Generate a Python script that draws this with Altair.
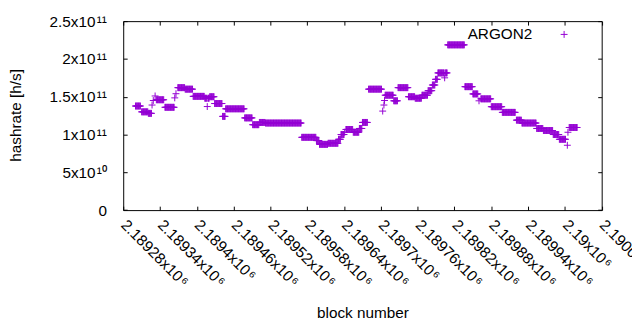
import altair as alt
import pandas as pd

# ---- data: runs of consecutive blocks that share one hashrate reading ----
run_start = [2189300, 2189310, 2189321, 2189327, 2189329, 2189332, 2189334, 2189348, 2189364, 2189366,
             2189369, 2189381, 2189394, 2189413, 2189417, 2189418, 2189421, 2189429, 2189442, 2189447,
             2189478, 2189491, 2189502, 2189512, 2189571, 2189595, 2189600, 2189614, 2189631, 2189635,
             2189641, 2189643, 2189655, 2189665, 2189670, 2189680, 2189703, 2189705, 2189706, 2189707,
             2189721, 2189728, 2189745, 2189756, 2189767, 2189777, 2189784, 2189789, 2189793, 2189804,
             2189805, 2189809, 2189837, 2189850, 2189860, 2189863, 2189880, 2189898, 2189921, 2189930,
             2189954, 2189965, 2189981, 2189991, 2190004, 2190005, 2190007]
run_end = [2189308, 2189320, 2189326, 2189327, 2189329, 2189332, 2189346, 2189363, 2189364, 2189366,
           2189380, 2189393, 2189412, 2189416, 2189417, 2189420, 2189428, 2189441, 2189446, 2189477,
           2189490, 2189501, 2189511, 2189570, 2189594, 2189599, 2189613, 2189630, 2189634, 2189640,
           2189641, 2189654, 2189664, 2189669, 2189678, 2189701, 2189703, 2189705, 2189706, 2189720,
           2189727, 2189744, 2189755, 2189766, 2189776, 2189783, 2189788, 2189792, 2189803, 2189804,
           2189808, 2189836, 2189849, 2189858, 2189860, 2189879, 2189897, 2189919, 2189929, 2189953,
           2189964, 2189980, 2189990, 2190001, 2190004, 2190005, 2190020]
run_value = [1.377e11, 1.30e11, 1.28e11, 1.39e11, 1.45e11, 1.51e11, 1.46e11, 1.36e11, 1.485e11, 1.54e11,
             1.62e11, 1.60e11, 1.505e11, 1.48e11, 1.37e11, 1.48e11, 1.50e11, 1.41e11, 1.24e11, 1.34e11,
             1.22e11, 1.13e11, 1.16e11, 1.152e11, 0.963e11, 0.92e11, 0.87e11, 0.884e11, 0.937e11, 1.00e11,
             1.03e11, 1.067e11, 1.03e11, 1.08e11, 1.16e11, 1.60e11, 1.31e11, 1.39e11, 1.45e11, 1.52e11,
             1.446e11, 1.62e11, 1.50e11, 1.48e11, 1.52e11, 1.58e11, 1.655e11, 1.73e11, 1.815e11, 1.75e11,
             1.815e11, 2.186e11, 1.633e11, 1.537e11, 1.446e11, 1.472e11, 1.368e11, 1.293e11, 1.19e11, 1.152e11,
             1.08e11, 1.053e11, 1.00e11, 0.937e11, 0.858e11, 1.03e11, 1.093e11]
series_name = "ARGON2"

x_tick_values = [2189280, 2189340, 2189400, 2189460, 2189520, 2189580, 2189640,
                 2189700, 2189760, 2189820, 2189880, 2189940, 2190000, 2190060]
x_tick_labels = ["2.18928x10\u200a⁶", "2.18934x10\u200a⁶", "2.1894x10\u200a⁶", "2.18946x10\u200a⁶",
                 "2.18952x10\u200a⁶", "2.18958x10\u200a⁶", "2.18964x10\u200a⁶", "2.1897x10\u200a⁶",
                 "2.18976x10\u200a⁶", "2.18982x10\u200a⁶", "2.18988x10\u200a⁶", "2.18994x10\u200a⁶",
                 "2.19x10\u200a⁶", "2.19006x10\u200a⁶"]
y_tick_values = [0, 50000000000, 100000000000, 150000000000, 200000000000, 250000000000]
y_tick_labels = ["0", "5x10\u200a¹⁰", "1x10\u200a¹¹", "1.5x10\u200a¹¹", "2x10\u200a¹¹", "2.5x10\u200a¹¹"]

rows = []
for s, e, v in zip(run_start, run_end, run_value):
    for b in range(s, e + 1):
        rows.append({"block": b, "hashrate": v, "series": series_name})
df = pd.DataFrame(rows)


def label_expr(values, labels):
    parts = " : ".join(f"datum.value == {v} ? '{l}'" for v, l in zip(values, labels))
    return parts + " : ''"


FONT = "Liberation Sans"
PURPLE = "#9400D3"
PLUS = "M-1,0L1,0M0,-1L0,1"

x_scale = alt.Scale(domain=[2189280, 2190060], nice=False, zero=False)
y_scale = alt.Scale(domain=[0, 250000000000], nice=False)

base = alt.Chart(df)

points = base.mark_point(shape=PLUS, filled=False, strokeWidth=1, size=49, opacity=1).encode(
    x=alt.X("block:Q", scale=x_scale,
            axis=alt.Axis(values=x_tick_values, labelExpr=label_expr(x_tick_values, x_tick_labels),
                          labelAngle=45, labelAlign="left", labelBaseline="middle", labelPadding=12,
                          labelOverlap=False, labelFlush=False, labelBound=False,
                          ticks=False, domain=False, grid=False, orient="bottom",
                          title="block number", titleY=109, titleBaseline="alphabetic",
                          labelFont=FONT, titleFont=FONT, labelFontSize=15.5, titleFontSize=15.5,
                          titleFontWeight="normal", labelColor="black", titleColor="black")),
    y=alt.Y("hashrate:Q", scale=y_scale,
            axis=alt.Axis(values=y_tick_values, labelExpr=label_expr(y_tick_values, y_tick_labels),
                          labelPadding=17, labelOverlap=False, labelFlush=False, labelBaseline="middle",
                          ticks=False, domain=False, grid=False, orient="left",
                          title="hashrate [h/s]", titleX=-104, titleY=95, titleBaseline="alphabetic",
                          titleAngle=270, titleAlign="center",
                          labelFont=FONT, titleFont=FONT, labelFontSize=15.5, titleFontSize=15.5,
                          titleFontWeight="normal", labelColor="black", titleColor="black")),
    color=alt.Color("series:N", scale=alt.Scale(domain=[series_name], range=[PURPLE]),
                    legend=alt.Legend(title=None, orient="none", legendX=438.8, legendY=5.7,
                                      symbolType=PLUS, symbolSize=49, symbolStrokeWidth=1,
                                      labelAlign="right", labelOffset={"expr": "-40"}, labelFont=FONT,
                                      labelFontSize=15.5, labelColor="black")),
)


def tick_layer(xo, yo):
    return base.mark_point(opacity=0).encode(
        x=alt.X("block:Q", scale=x_scale,
                axis=alt.Axis(values=x_tick_values, labels=False, domain=False, grid=False, ticks=True,
                              tickSize=4, offset=-4, tickColor="black", title=None, orient=xo)),
        y=alt.Y("hashrate:Q", scale=y_scale,
                axis=alt.Axis(values=y_tick_values, labels=False, domain=False, grid=False, ticks=True,
                              tickSize=4, offset=-4, tickColor="black", title=None, orient=yo)),
    )


chart = alt.layer(points, tick_layer("bottom", "left"), tick_layer("top", "right")).resolve_axis(
    x="independent", y="independent"
).properties(
    width=484.6, height=191.4,
    padding={"left": 116.7, "top": 11.3, "right": 30.7, "bottom": 111},
    autosize=alt.AutoSizeParams(type="none"),
    background="white",
).configure_view(stroke="black", strokeWidth=1)

chart.save("out.html", embed_options={"renderer": "svg", "actions": False})
